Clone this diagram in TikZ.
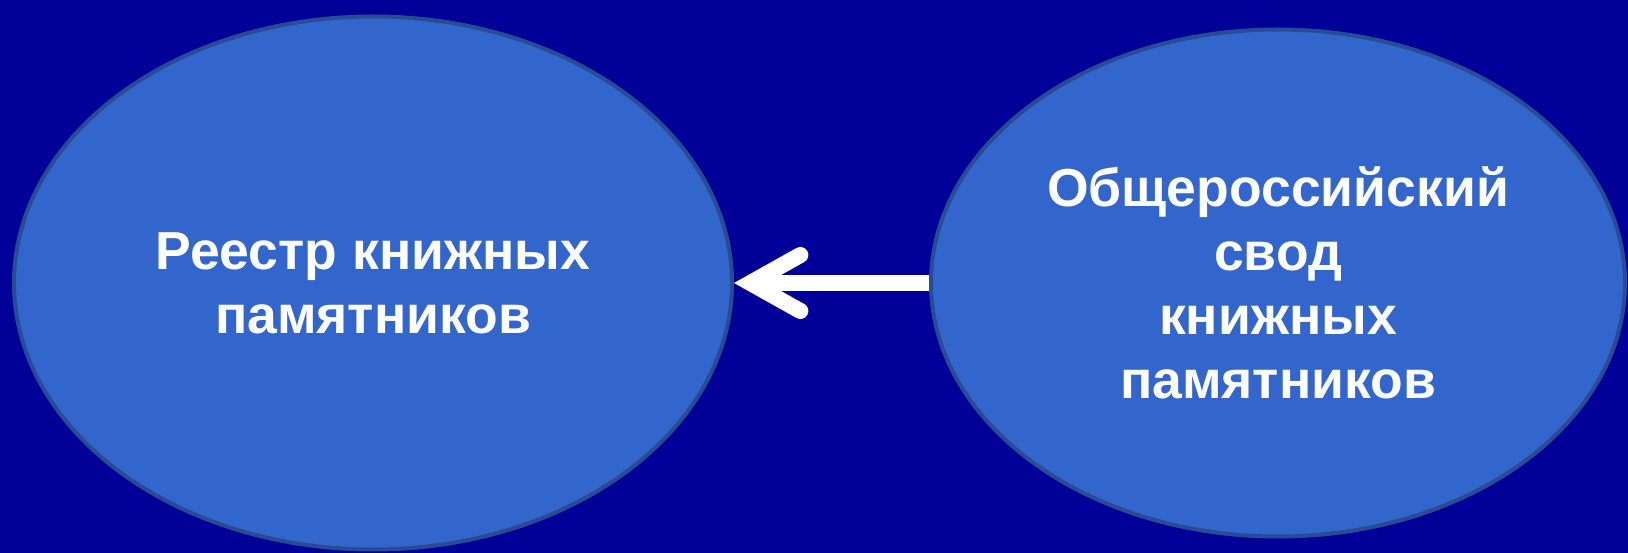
\documentclass[tikz,border=0pt]{standalone}
\usepackage{fontspec}
\setmainfont{Liberation Sans}
\usepackage{tikz}
\usetikzlibrary{shapes.geometric,arrows.meta,positioning}

\definecolor{bgnavy}{HTML}{000099}
\definecolor{ovalfill}{HTML}{3366CC}
\definecolor{ovalline}{HTML}{284C94}

\tikzset{
  oval/.style={ellipse, draw=ovalline, line width=4pt, fill=ovalfill,
    text=white, align=center, inner sep=0pt,
    font=\bfseries\fontsize{53.5}{64}\selectfont},
  link/.style={draw=white, line width=16pt,
    -{Straight Barb[length=50pt,width=56pt,line cap=round,line join=miter]}}
}

\begin{document}
\begin{tikzpicture}[x=1pt,y=-1pt]

\fill[bgnavy] (0,0) rectangle (1628,553);
\useasboundingbox (0,0) rectangle (1628,553);

\node[oval, minimum width=718pt, minimum height=533pt]	(reestr)	at (373,283)	{Реестр книжных\\памятников};
\node[oval, minimum width=694pt, minimum height=507pt]	(svod)	at (1278,283)	{Общероссийский\\свод\\книжных\\памятников};

\draw[link] (svod.west) -- (reestr.east);

\end{tikzpicture}
\end{document}
